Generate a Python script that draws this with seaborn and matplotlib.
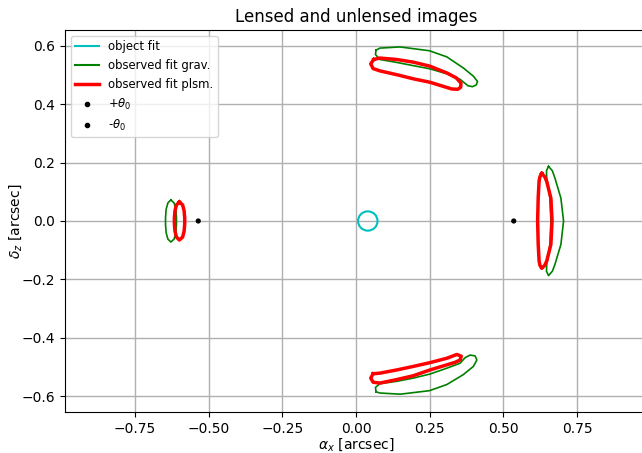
import numpy as np
import matplotlib
matplotlib.use("Agg")
import matplotlib.pyplot as plt
from matplotlib.patches import Circle
from matplotlib.lines import Line2D
import seaborn as sns

# Source (object) fit: circle centre and radius [arcsec]
obj_x0, obj_y0, obj_r = 0.040, 0.0, 0.033

# Einstein-angle markers
theta0_plus = (0.535, 0.0)
theta0_minus = (-0.535, 0.0)

# Observed images, gravitational fit (outlines, arcsec)
grav_top_x = [0.068, 0.081, 0.149, 0.249, 0.308, 0.364, 0.398, 0.412, 0.408, 0.395, 0.380,
              0.353, 0.308, 0.251, 0.194, 0.138, 0.081, 0.066]
grav_top_y = [0.585, 0.592, 0.596, 0.583, 0.562, 0.524, 0.496, 0.478, 0.466, 0.460, 0.463,
              0.485, 0.504, 0.521, 0.532, 0.543, 0.553, 0.570]

grav_bot_x = [0.068, 0.081, 0.150, 0.249, 0.308, 0.364, 0.398, 0.410, 0.404, 0.387, 0.370,
              0.353, 0.308, 0.251, 0.194, 0.138, 0.081, 0.066]
grav_bot_y = [-0.585, -0.589, -0.593, -0.581, -0.560, -0.526, -0.498, -0.476, -0.462, -0.459,
              -0.468, -0.487, -0.504, -0.524, -0.538, -0.549, -0.557, -0.570]

grav_right_x = [0.653, 0.666, 0.675, 0.695, 0.704, 0.695, 0.675, 0.666, 0.653, 0.646, 0.647,
                0.658, 0.661, 0.658, 0.647, 0.646]
grav_right_y = [0.187, 0.172, 0.146, 0.078, 0.000, -0.080, -0.148, -0.172, -0.187, -0.172,
                -0.148, -0.080, 0.000, 0.078, 0.146, 0.172]

grav_left_x = [-0.628, -0.617, -0.611, -0.609, -0.609, -0.611, -0.617, -0.628, -0.638, -0.644,
               -0.646, -0.646, -0.644, -0.638]
grav_left_y = [0.072, 0.062, 0.040, 0.012, -0.012, -0.040, -0.062, -0.072, -0.062, -0.040,
               -0.012, 0.012, 0.040, 0.062]

# Observed images, plasma fit (outlines, arcsec)
plsm_top_x = [0.060, 0.081, 0.138, 0.194, 0.251, 0.308, 0.340, 0.356, 0.355, 0.345, 0.325,
              0.251, 0.194, 0.138, 0.081, 0.058, 0.050]
plsm_top_y = [0.553, 0.558, 0.553, 0.544, 0.530, 0.507, 0.490, 0.472, 0.458, 0.451, 0.452,
              0.475, 0.487, 0.501, 0.514, 0.522, 0.538]

plsm_bot_x = [0.058, 0.081, 0.138, 0.194, 0.251, 0.308, 0.342, 0.357, 0.353, 0.336, 0.251,
              0.194, 0.138, 0.081, 0.058, 0.050]
plsm_bot_y = [-0.523, -0.521, -0.510, -0.498, -0.485, -0.470, -0.457, -0.463, -0.476, -0.484,
              -0.510, -0.530, -0.543, -0.555, -0.552, -0.538]

plsm_right_x = [0.630, 0.640, 0.647, 0.661, 0.665, 0.661, 0.647, 0.640, 0.630, 0.624, 0.621,
                0.618, 0.616, 0.618, 0.621, 0.624]
plsm_right_y = [0.163, 0.152, 0.135, 0.078, 0.000, -0.080, -0.137, -0.152, -0.162, -0.152,
                -0.137, -0.080, 0.000, 0.080, 0.137, 0.152]

plsm_left_x = [-0.599, -0.588, -0.583, -0.581, -0.581, -0.583, -0.588, -0.599, -0.609, -0.614,
               -0.616, -0.616, -0.614, -0.609]
plsm_left_y = [0.065, 0.055, 0.035, 0.010, -0.010, -0.035, -0.055, -0.065, -0.055, -0.035,
               -0.010, 0.010, 0.035, 0.055]

x_ticks = [-0.75, -0.50, -0.25, 0.00, 0.25, 0.50, 0.75]
y_ticks = [-0.6, -0.4, -0.2, 0.0, 0.2, 0.4, 0.6]

GRAV_COLOR = "green"
PLSM_COLOR = "red"
OBJ_COLOR = "c"


def closed(xs, ys):
    return list(xs) + [xs[0]], list(ys) + [ys[0]]


fig = plt.figure(figsize=(6.42, 4.53), dpi=100)
ax = fig.add_axes([65 / 642, 41 / 453, 582 / 642, 382 / 453])

grav = [(grav_top_x, grav_top_y), (grav_bot_x, grav_bot_y),
        (grav_right_x, grav_right_y), (grav_left_x, grav_left_y)]
plsm = [(plsm_top_x, plsm_top_y), (plsm_bot_x, plsm_bot_y),
        (plsm_right_x, plsm_right_y), (plsm_left_x, plsm_left_y)]

for xs, ys in grav:
    cx, cy = closed(xs, ys)
    sns.lineplot(x=cx, y=cy, sort=False, estimator=None, color=GRAV_COLOR,
                 linewidth=1.2, ax=ax)
for xs, ys in plsm:
    cx, cy = closed(xs, ys)
    sns.lineplot(x=cx, y=cy, sort=False, estimator=None, color=PLSM_COLOR,
                 linewidth=2.5, ax=ax)

ax.add_patch(Circle((obj_x0, obj_y0), obj_r, fill=False, edgecolor=OBJ_COLOR,
                    linewidth=1.5))

sns.scatterplot(x=[theta0_plus[0]], y=[theta0_plus[1]], color="k", s=14,
                edgecolor="none", ax=ax)
sns.scatterplot(x=[theta0_minus[0]], y=[theta0_minus[1]], color="k", s=14,
                edgecolor="none", ax=ax)

ax.set_xlim(-0.987, 0.987)
ax.set_ylim(-0.654, 0.654)
ax.set_xticks(x_ticks)
ax.set_yticks(y_ticks)
ax.grid(True, color="#b0b0b0", linewidth=1.0)
ax.set_axisbelow(True)

ax.set_title("Lensed and unlensed images")
ax.set_xlabel(r"$\alpha_x$ [arcsec]", labelpad=0)
ax.set_ylabel(r"$\delta_z$ [arcsec]", labelpad=-2)

handles = [
    Line2D([], [], color=OBJ_COLOR, linewidth=1.5, label="object fit"),
    Line2D([], [], color=GRAV_COLOR, linewidth=1.5, label="observed fit grav."),
    Line2D([], [], color=PLSM_COLOR, linewidth=2.5, label="observed fit plsm."),
    Line2D([], [], color="k", marker=".", linestyle="none", label=r"+$\theta_0$"),
    Line2D([], [], color="k", marker=".", linestyle="none", label=r"-$\theta_0$"),
]
ax.legend(handles=handles, loc="upper left", fontsize="small")

fig.savefig("out.png", dpi=100)
